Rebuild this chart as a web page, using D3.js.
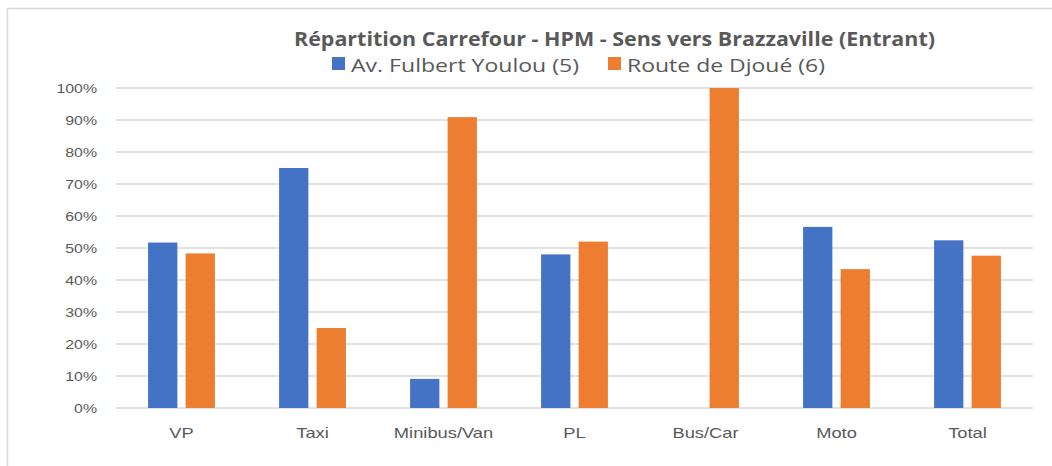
<!DOCTYPE html>
<html><head><meta charset="utf-8">
<script src="https://cdn.jsdelivr.net/npm/d3@7"></script>
<style>body{margin:0;background:#fff;} svg{display:block;font-family:"Open Sans","Segoe UI",sans-serif;}</style>
</head><body>
<svg id="c" width="1052" height="466"></svg>
<script>
const categories = ["VP","Taxi","Minibus/Van","PL","Bus/Car","Moto","Total"];
const seriesNames = ["Av. Fulbert Youlou (5)","Route de Djoué (6)"];
const seriesA = [0.517,0.75,0.091,0.48,0,0.566,0.524];
const seriesB = [0.483,0.25,0.909,0.52,1.0,0.434,0.476];
const colors = ["#4472C4","#ED7D31"];
const yTicks = [0,0.1,0.2,0.3,0.4,0.5,0.6,0.7,0.8,0.9,1.0];
const title = "Répartition Carrefour - HPM - Sens vers Brazzaville (Entrant)";

(function(){
const svg = d3.select("#c");
// stretch a text horizontally (reference is rendered wider than tall)
function stretch(sel, factor){
  sel.each(function(){
    const len = this.getComputedTextLength();
    d3.select(this).attr("textLength", len*factor).attr("lengthAdjust","spacingAndGlyphs");
  });
}
function fitWidth(sel, w){
  sel.attr("textLength", w).attr("lengthAdjust","spacingAndGlyphs");
}

// chart border
svg.append("rect").attr("x",7.5).attr("y",8.5).attr("width",1100).attr("height",500)
  .attr("fill","none").attr("stroke","#d9d9d9").attr("stroke-width",1.5);

const pLeft=116, pRight=1033, pTop=88, pBottom=408;
const x = d3.scaleBand().domain(categories).range([pLeft,pRight]);
const y = d3.scaleLinear().domain([0,1]).range([pBottom,pTop]);
const inner = d3.scaleBand().domain([0,1]).range([0,x.bandwidth()*0.51]).paddingInner(0.22);

// gridlines
svg.append("g").selectAll("line").data(yTicks).join("line")
  .attr("x1",pLeft).attr("x2",pRight).attr("y1",d=>y(d)).attr("y2",d=>y(d))
  .attr("stroke","#d9d9d9").attr("stroke-width",1.5);

// y axis labels
const yAxis = d3.axisLeft(y).tickValues(yTicks).tickFormat(d3.format(".0%")).tickSize(0).tickPadding(0);
const ya = svg.append("g").attr("transform",`translate(97,0)`).call(yAxis);
ya.select(".domain").remove();
ya.selectAll("text").attr("fill","#595959").style("font-size","13px").attr("dy","0.36em");
stretch(ya.selectAll("text"), 1.22);

// x axis labels
const xAxis = d3.axisBottom(x).tickSize(0).tickPadding(0);
const xa = svg.append("g").attr("transform",`translate(0,${pBottom+19})`).call(xAxis);
xa.select(".domain").remove();
xa.selectAll("text").attr("fill","#595959").style("font-size","15px").attr("dy","0.71em");
stretch(xa.selectAll("text"), 1.22);

// bars
const data = categories.map((c,i)=>({c, v:[seriesA[i],seriesB[i]]}));
const off = (x.bandwidth()-x.bandwidth()*0.51)/2;
const g = svg.append("g");
data.forEach(d=>{
  d.v.forEach((v,j)=>{
    if(v<=0) return;
    g.append("rect")
      .attr("x",x(d.c)+off+inner(j))
      .attr("y",y(v))
      .attr("width",inner.bandwidth())
      .attr("height",pBottom-y(v))
      .attr("fill",colors[j]);
  });
});

// title
const t = svg.append("text").attr("x",294).attr("y",46)
  .attr("fill","#595959").style("font-size","19.5px").style("font-weight","bold").text(title);
fitWidth(t, 641);

// legend
const legX = [332,608];
const legW = [228,198];
seriesNames.forEach((n,j)=>{
  svg.append("rect").attr("x",legX[j]).attr("y",57).attr("width",13).attr("height",13).attr("fill",colors[j]);
  const lt = svg.append("text").attr("x",legX[j]+19).attr("y",72).attr("fill","#595959")
    .style("font-size","17.5px").text(n);
  fitWidth(lt, legW[j]);
});
})();
</script>
</body></html>
